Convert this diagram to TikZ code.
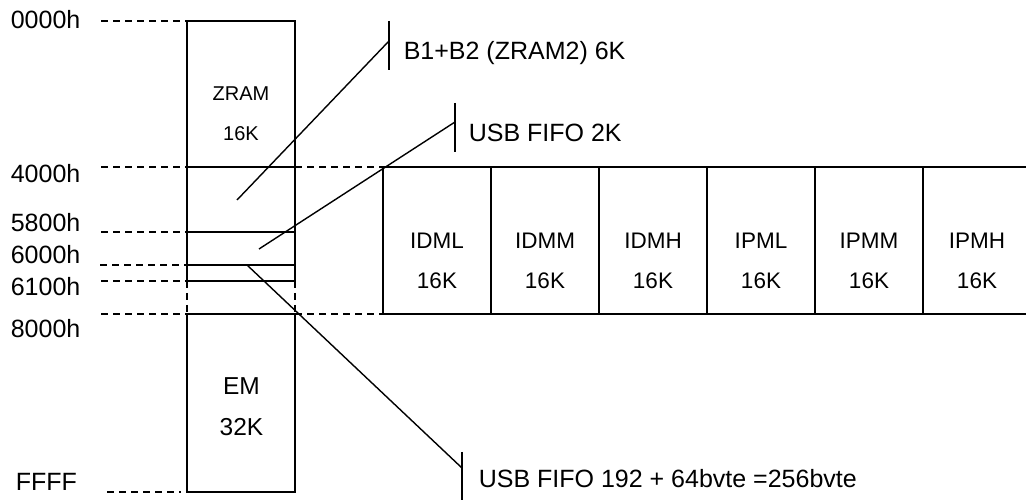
\documentclass[tikz,border=0pt]{standalone}
\usepackage{fontspec}
\setmainfont{Liberation Sans}
\usetikzlibrary{positioning}

\begin{document}
\begin{tikzpicture}[x=1pt, y=-1pt, line width=1.6pt]
    \tikzstyle{seg} = [rectangle, draw, minimum width=108pt, inner sep=0pt, outer sep=0pt]
    \tikzstyle{cell} = [rectangle, draw, minimum width=108pt, minimum height=147pt, inner sep=0pt, outer sep=0pt]
    \tikzstyle{addr} = [anchor=base west, inner sep=0pt, font=\fontsize{25}{29}\selectfont]
    \tikzstyle{bank} = [align=center, inner sep=0pt, font=\fontsize{22.5}{40}\selectfont]
    \tikzstyle{guide} = [dash pattern=on 7pt off 5pt]
    \tikzstyle{lead} = [line width=1.4pt]

    \useasboundingbox (0,0) rectangle (1026,502);

    % address column
    \node[seg, minimum height=146pt] (zram) at (241,94) {};
    \node[seg, minimum height=65pt] (zram2) at (241,199.5) {};
    \node[seg, minimum height=33pt] (fifo) at (241,248.5) {};
    \node[seg, minimum height=16pt] (fifoep) at (241,273) {};
    \node[seg, minimum height=178pt] (em) at (241,403) {};
    \draw[guide] (fifoep.south west) -- (em.north west);
    \draw[guide] (fifoep.south east) -- (em.north east);
    \node[bank, font=\fontsize{20}{40}\selectfont] (zramtxt) at (241,114) {ZRAM\\16K};
    \node[bank, font=\fontsize{24.5}{41}\selectfont] (emtxt) at (241.5,406.5) {EM\\32K};

    % banked pages
    \node[cell] (idml) at (437,240.5) {};
    \node[cell] (idmm) at (545,240.5) {};
    \node[cell] (idmh) at (653,240.5) {};
    \node[cell] (ipml) at (761,240.5) {};
    \node[cell] (ipmm) at (869,240.5) {};
    \node[cell] (ipmh) at (977,240.5) {};
    \node[bank] (idmltxt) at (437,261) {IDML\\16K};
    \node[bank] (idmmtxt) at (545,261) {IDMM\\16K};
    \node[bank] (idmhtxt) at (653,261) {IDMH\\16K};
    \node[bank] (ipmltxt) at (761,261) {IPML\\16K};
    \node[bank] (ipmmtxt) at (869,261) {IPMM\\16K};
    \node[bank] (ipmhtxt) at (977,261) {IPMH\\16K};
    \draw[guide] (zram.south east) -- (idml.north west);
    \draw[guide] (em.north east) -- (idml.south west);

    % addresses
    \node[addr] (a0000) at (10,29) {0000h};
    \node[addr] (a4000) at (10,182.5) {4000h};
    \node[addr] (a5800) at (10,231.5) {5800h};
    \node[addr] (a6000) at (10,263.5) {6000h};
    \node[addr] (a6100) at (10,295.5) {6100h};
    \node[addr] (a8000) at (10,337.5) {8000h};
    \node[addr] (affff) at (15,491) {FFFF};
    \coordinate (g0000) at (101,21);
    \coordinate (g4000) at (101,167);
    \coordinate (g5800) at (101,232);
    \coordinate (g6000) at (100,265);
    \coordinate (g6100) at (101,281);
    \coordinate (g8000) at (101,314);
    \coordinate (gffff) at (107,492);
    \coordinate (gffffend) at (181,492);
    \draw[guide] (g0000) -- (zram.north west);
    \draw[guide] (g4000) -- (zram.south west);
    \draw[guide] (g5800) -- (fifo.north west);
    \draw[guide] (g6000) -- (fifoep.north west);
    \draw[guide] (g6100) -- (fifoep.south west);
    \draw[guide] (g8000) -- (em.north west);
    \draw[guide] (gffff) -- (gffffend);

    % call-outs
    \coordinate (p1) at (237,200);
    \coordinate (t1) at (389,41);
    \coordinate (t1top) at (389,21);
    \coordinate (t1bot) at (389,70);
    \draw[lead] (p1) -- (t1);
    \draw[lead] (t1top) -- (t1bot);
    \node[addr] (n1) at (403,60) {B1+B2 (ZRAM2) 6K};

    \coordinate (p2) at (259,249);
    \coordinate (t2) at (455,122);
    \coordinate (t2top) at (455,103);
    \coordinate (t2bot) at (455,152);
    \draw[lead] (p2) -- (t2);
    \draw[lead] (t2top) -- (t2bot);
    \node[addr] (n2) at (468,142) {USB FIFO 2K};

    \coordinate (p3) at (247,265);
    \coordinate (t3) at (462,468);
    \coordinate (t3top) at (462,452);
    \coordinate (t3bot) at (462,500);
    \draw[lead] (p3) -- (t3);
    \draw[lead] (t3top) -- (t3bot);
    \node[addr] (n3) at (478,488) {USB FIFO 192 + 64bvte =256bvte};
\end{tikzpicture}
\end{document}
